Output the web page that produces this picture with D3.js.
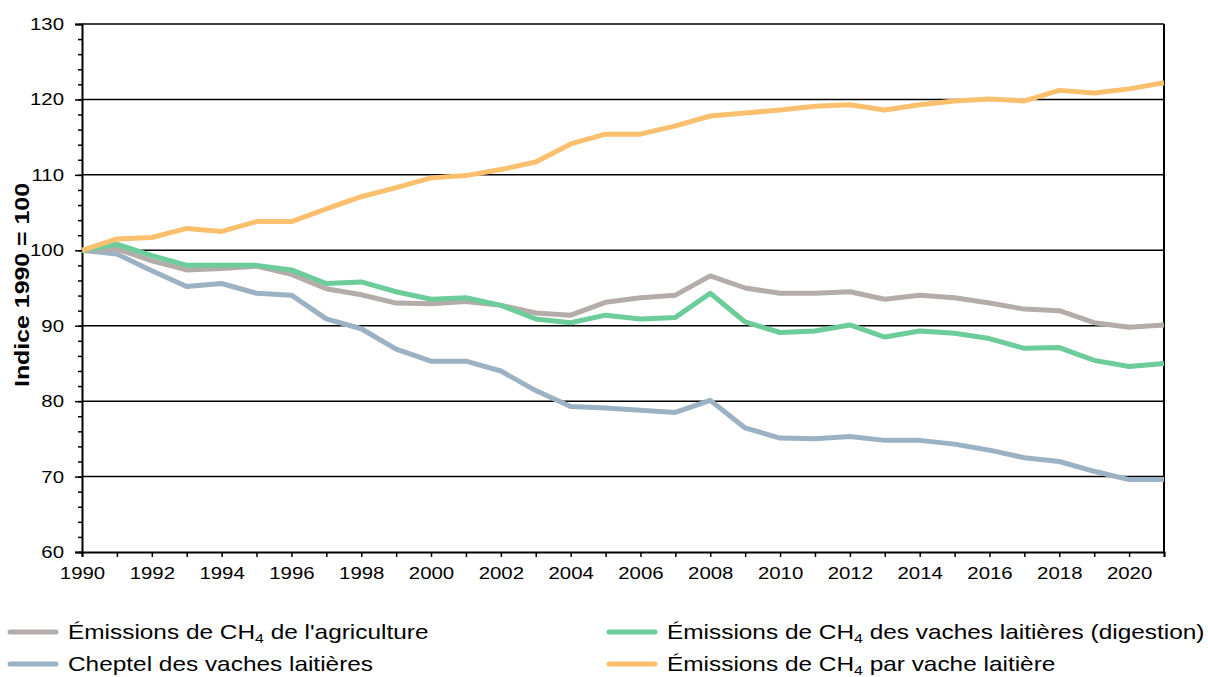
<!DOCTYPE html>
<html>
<head>
<meta charset="utf-8">
<script src="https://cdn.jsdelivr.net/npm/d3@7"></script>
<style>
  body { margin: 0; background: #fff; }
  svg text { font-family: "Liberation Sans", Arial, sans-serif; fill: #000; }
</style>
</head>
<body>
<svg id="chart" width="1208" height="677"></svg>
<script>
'use strict';

// years 1990..2021
const years = d3.range(1990, 2022);

// indices, 1990 = 100
const agriculture = [100, 100.2, 98.6, 97.4, 97.6, 97.9, 96.8, 94.9, 94.1, 93.0,
	92.9, 93.2, 92.7, 91.7, 91.4, 93.1, 93.7, 94.05, 96.6, 95.0,
	94.3, 94.3, 94.5, 93.5, 94.05, 93.7, 93.0, 92.2, 92.0, 90.4,
	89.8, 90.1];
const vachesDigestion = [100, 100.8, 99.3, 98.0, 98.0, 98.0, 97.4, 95.6, 95.8, 94.5,
	93.5, 93.7, 92.7, 90.9, 90.4, 91.4, 90.9, 91.1, 94.3, 90.5,
	89.1, 89.3, 90.1, 88.5, 89.3, 89.0, 88.3, 87.0, 87.1, 85.4,
	84.6, 85.0];
const cheptel = [100, 99.5, 97.3, 95.2, 95.6, 94.3, 94.05, 90.9, 89.6, 86.9,
	85.3, 85.3, 84.0, 81.4, 79.3, 79.1, 78.8, 78.5, 80.1, 76.45,
	75.1, 75.0, 75.3, 74.8, 74.8, 74.3, 73.5, 72.5, 72.0, 70.7,
	69.6, 69.6];
const parVache = [100, 101.5, 101.7, 102.9, 102.5, 103.8, 103.8, 105.5, 107.1, 108.3,
	109.6, 109.9, 110.7, 111.7, 114.1, 115.4, 115.4, 116.5, 117.8, 118.2,
	118.6, 119.1, 119.3, 118.6, 119.3, 119.8, 120.05, 119.8, 121.2, 120.85,
	121.4, 122.2];

const yTicks = [60, 70, 80, 90, 100, 110, 120, 130];
const xTickLabels = d3.range(1990, 2021, 2);

// draw order: back to front
const series = [
	{name: "cheptel", values: cheptel, color: "#9ab2c4"},
	{name: "agri", values: agriculture, color: "#b4aca8"},
	{name: "digestion", values: vachesDigestion, color: "#6ccc9a"},
	{name: "parVache", values: parVache, color: "#fac06e"}
];

const legendItems = [
	{pre: "Émissions de CH", post: " de l'agriculture", color: "#b4aca8", col: 0, row: 0},
	{pre: "Émissions de CH", post: " des vaches laitières (digestion)", color: "#6ccc9a", col: 1, row: 0},
	{pre: "Cheptel des vaches laitières", post: null, color: "#9ab2c4", col: 0, row: 1},
	{pre: "Émissions de CH", post: " par vache laitière", color: "#fac06e", col: 1, row: 1}
];

// the original text is a bit wider than the font
const stretch = 1.2;

let svg = d3.select("#chart"),
	margin = {top: 24, right: 44, bottom: 125, left: 82},
	width = +svg.attr("width") - margin.left - margin.right,
	height = +svg.attr("height") - margin.top - margin.bottom,
	g = svg.append("g").attr("transform", "translate(" + margin.left + "," + margin.top + ")");

let x = d3.scaleLinear().domain([1990, 2021]).range([0, width]);
let y = d3.scaleLinear().domain([60, 130]).range([height, 0]);

// gridlines
g.append("g")
	.selectAll("line")
	.data(yTicks.filter(d => d > 60))
	.enter().append("line")
	.attr("x1", 0).attr("x2", width)
	.attr("y1", d => y(d)).attr("y2", d => y(d))
	.attr("stroke", "#000").attr("stroke-width", 1.5);

// right border
g.append("line")
	.attr("x1", width).attr("x2", width)
	.attr("y1", 0).attr("y2", height)
	.attr("stroke", "#000").attr("stroke-width", 2);

// y axis, minor ticks every 2
let yMinor = g.append("g")
	.call(d3.axisLeft(y).tickValues(d3.range(60, 131, 2)).tickSize(4).tickFormat(""));
yMinor.select(".domain").remove();
yMinor.selectAll("line").attr("stroke-width", 1.5);

let yAxis = g.append("g")
	.call(d3.axisLeft(y).tickValues(yTicks).tickSize(7).tickPadding(8).tickFormat(d3.format("d")));
yAxis.select(".domain").attr("stroke-width", 2);
yAxis.selectAll("line").attr("stroke-width", 1.5);
yAxis.selectAll("text")
	.style("font-size", "17px")
	.style("font-family", "Liberation Sans, Arial, sans-serif")
	.attr("transform", "scale(" + stretch + ",1)");

// x axis
let xAxis = g.append("g")
	.attr("transform", "translate(0," + height + ")")
	.call(d3.axisBottom(x).tickValues(years).tickSize(5).tickPadding(10)
		.tickFormat(d => xTickLabels.includes(d) ? d : ""));
xAxis.select(".domain").attr("stroke-width", 2);
xAxis.selectAll("line").attr("stroke-width", 1.5);
xAxis.selectAll("text")
	.style("font-size", "17px")
	.style("font-family", "Liberation Sans, Arial, sans-serif")
	.attr("transform", "scale(" + stretch + ",1)");

// y title
svg.append("text")
	.attr("transform", "translate(29,285) rotate(-90)")
	.attr("text-anchor", "middle")
	.attr("textLength", 204)
	.attr("lengthAdjust", "spacingAndGlyphs")
	.style("font-size", "20px")
	.style("font-weight", "bold")
	.text("Indice 1990 = 100");

// lines
let line = d3.line()
	.x((d, i) => x(years[i]))
	.y(d => y(d));

g.selectAll(".series")
	.data(series)
	.enter().append("path")
	.attr("class", "series")
	.attr("d", d => line(d.values))
	.attr("fill", "none")
	.attr("stroke", d => d.color)
	.attr("stroke-width", 5)
	.attr("stroke-linejoin", "round");

// legend
let legendX = [10, 609],
	legendY = [632, 664];

let leg = svg.append("g").selectAll("g")
	.data(legendItems)
	.enter().append("g")
	.attr("transform", d => "translate(" + legendX[d.col] + "," + legendY[d.row] + ")");

leg.append("line")
	.attr("x1", 0).attr("x2", 46)
	.attr("stroke", d => d.color)
	.attr("stroke-width", 5)
	.attr("stroke-linecap", "round");

let lt = leg.append("text")
	.attr("transform", "translate(58,0) scale(1.22,1)")
	.attr("dy", "0.35em")
	.style("font-size", "20px");

lt.append("tspan").text(d => d.pre);
lt.filter(d => d.post !== null).append("tspan")
	.attr("dy", 4).style("font-size", "13px").text("4");
lt.filter(d => d.post !== null).append("tspan")
	.attr("dy", -4).text(d => d.post);
</script>
</body>
</html>
